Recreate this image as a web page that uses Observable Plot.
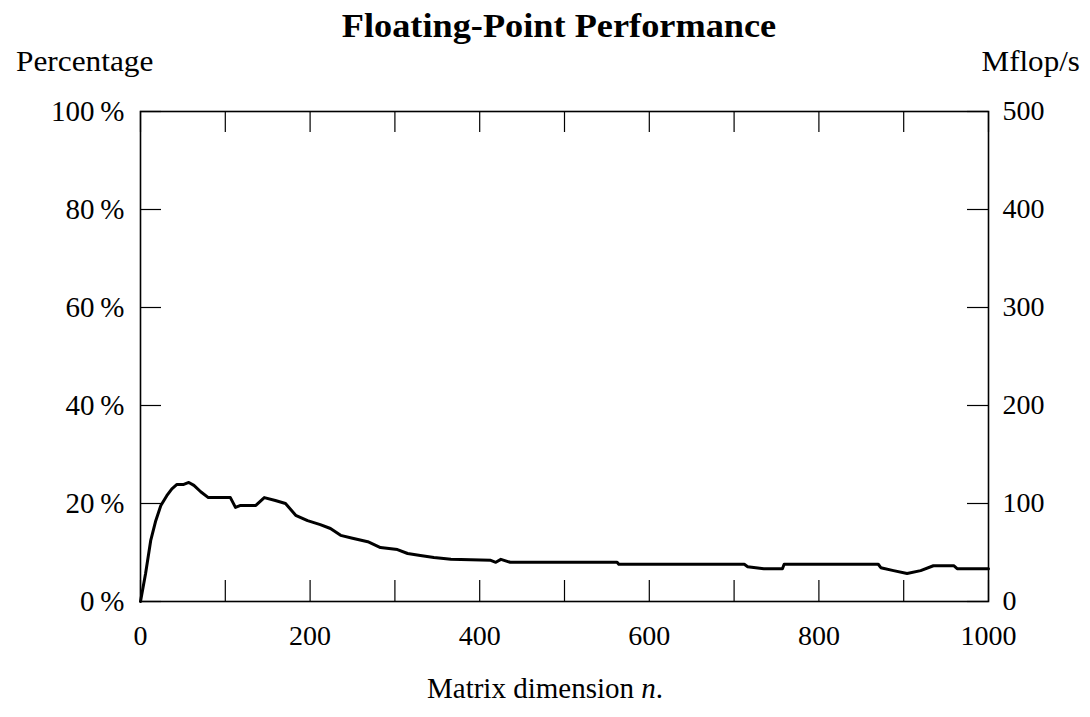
<!DOCTYPE html>
<html>
<head>
<meta charset="utf-8">
<script src="https://cdn.jsdelivr.net/npm/d3@7"></script>
<script src="https://cdn.jsdelivr.net/npm/@observablehq/plot@0.6"></script>
<style>
  html, body { margin: 0; padding: 0; background: #fff; }
  #wrap { position: relative; width: 1090px; height: 717px; font-family: "Liberation Serif", "DejaVu Serif", serif; color: #000; }
  #wrap svg { position: absolute; left: 0; top: 0; }
  .lbl { position: absolute; white-space: nowrap; line-height: 1; }
  #title { left: 14px; width: 1090px; text-align: center; top: 10px; font-size: 33px; font-weight: bold; transform: scaleX(1.1); transform-origin: 545px 0; }
  #ylab { left: 16px; top: 47px; font-size: 29px; transform: scaleX(1.08); transform-origin: 0 0; }
  #y2lab { right: 10px; top: 47px; font-size: 29px; transform: scaleX(1.07); transform-origin: 100% 0; }
  #xlab { left: 0; width: 1090px; text-align: center; top: 674px; font-size: 29px; }
</style>
</head>
<body>
<div id="wrap">
  <div class="lbl" id="title">Floating-Point Performance</div>
  <div class="lbl" id="ylab">Percentage</div>
  <div class="lbl" id="y2lab">Mflop/s</div>
  <div class="lbl" id="xlab">Matrix dimension <i>n</i>.</div>
</div>
<script>
// Matrix dimension n
const dims = [0, 6, 12, 18, 24, 31, 37, 43, 51, 57, 63, 71, 80, 106, 112, 118, 136, 146, 159, 171, 183, 197, 212, 224, 236, 250, 268, 283, 303, 315, 330, 346, 366, 413, 419, 425, 436, 562, 564, 660, 712, 716, 735, 757, 759, 870, 873, 888, 904, 920, 935, 959, 963, 1000];
// Percentage of peak performance
const percent = [0, 5.7, 12.4, 16.5, 19.6, 21.6, 23, 23.9, 23.9, 24.3, 23.7, 22.4, 21.2, 21.2, 19.2, 19.6, 19.6, 21.2, 20.6, 20, 17.6, 16.5, 15.7, 14.9, 13.5, 12.9, 12.2, 11, 10.6, 9.8, 9.4, 9, 8.6, 8.4, 8, 8.6, 8, 8, 7.6, 7.6, 7.6, 7.1, 6.7, 6.7, 7.6, 7.6, 6.9, 6.3, 5.7, 6.3, 7.3, 7.3, 6.7, 6.7];
// Tick values
const xTicks = [0, 100, 200, 300, 400, 500, 600, 700, 800, 900, 1000];
const xLabels = [0, 200, 400, 600, 800, 1000];
const yTicks = [0, 20, 40, 60, 80, 100];
const peakMflops = 500;

const data = dims.map((n, i) => ({n, p: percent[i]}));

const W = 1090, H = 717;
const mL = 140, mR = 102, mT = 111, mB = 116;
const frameH = H - mT - mB, frameW = W - mL - mR;
const tick = 21;

const chart = Plot.plot({
  width: W,
  height: H,
  marginLeft: mL,
  marginRight: mR,
  marginTop: mT,
  marginBottom: mB,
  style: {fontFamily: "Liberation Serif, DejaVu Serif, serif", fontSize: "28px", color: "#000", background: "transparent"},
  x: {domain: [0, 1000]},
  y: {domain: [0, 100]},
  marks: [
    // inward ticks
    Plot.ruleX(xTicks, {x: d => d, insetTop: frameH - tick, stroke: "#000", strokeWidth: 1.2}),
    Plot.ruleX(xTicks, {x: d => d, insetBottom: frameH - tick, stroke: "#000", strokeWidth: 1.2}),
    Plot.ruleY(yTicks, {y: d => d, insetRight: frameW - tick, stroke: "#000", strokeWidth: 1.2}),
    Plot.ruleY(yTicks, {y: d => d, insetLeft: frameW - tick, stroke: "#000", strokeWidth: 1.2}),
    Plot.frame({stroke: "#000", strokeWidth: 1.6}),
    Plot.axisX({ticks: xLabels, tickSize: 0, tickPadding: 24, label: null, tickFormat: d => String(d), fontSize: 28}),
    Plot.axisY({ticks: yTicks, tickSize: 0, tickPadding: 16, label: null, tickFormat: d => d + "\u2009%", fontSize: 29}),
    Plot.axisY({anchor: "right", ticks: yTicks, tickSize: 0, tickPadding: 14, label: null, tickFormat: d => String(d * peakMflops / 100), fontSize: 28}),
    Plot.line(data, {x: "n", y: "p", stroke: "#000", strokeWidth: 3, strokeLinejoin: "round"})
  ]
});
document.getElementById("wrap").prepend(chart);
</script>
</body>
</html>
